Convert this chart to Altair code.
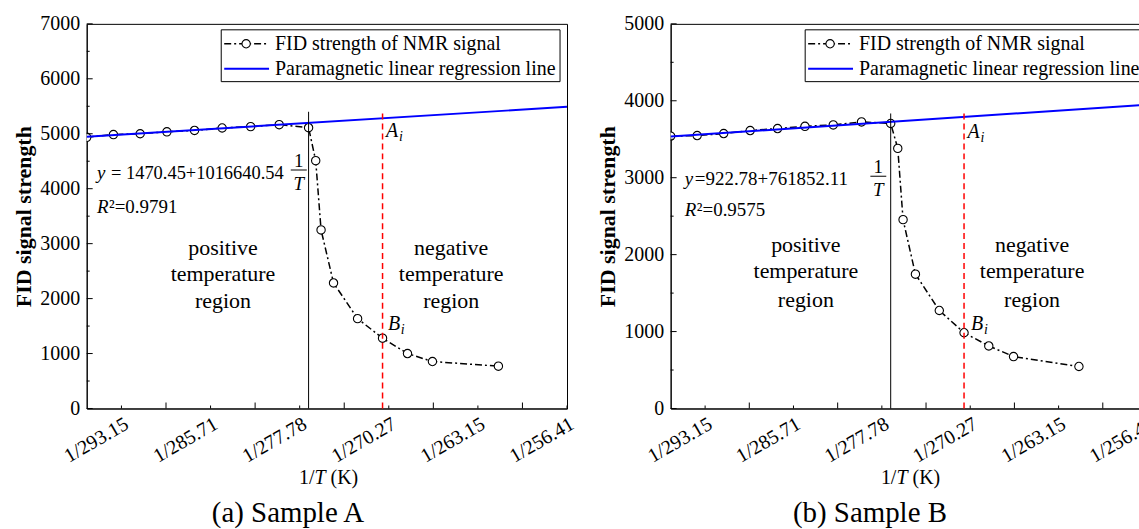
import altair as alt
import pandas as pd

# ---------------- data ----------------
inv_T = [3.361, 3.391, 3.421, 3.451, 3.482, 3.513, 3.545, 3.577, 3.610,
         3.618, 3.624, 3.638, 3.665, 3.693, 3.721, 3.749, 3.823]   # 1/T  (x 10^-3)
fid_a = [4935, 4985, 5000, 5035, 5060, 5105, 5130, 5165, 5110,
         4510, 3250, 2285, 1635, 1280, 1000, 855, 770]
fid_b = [3540, 3548, 3574, 3613, 3639, 3668, 3686, 3725, 3705,
         3381, 2455, 1746, 1274, 985, 813, 675, 546]
reg_x = [3.361, 3.9]
reg_a = [4945, 5490]
reg_b = [3535, 3950]
tick_values = [3.4, 3.5, 3.6, 3.7, 3.8, 3.9]
tick_labels = ["1/293.15", "1/285.71", "1/277.78", "1/270.27", "1/263.15", "1/256.41"]
minor_x = [3.45, 3.55, 3.65, 3.75, 3.85]
transition_x = 3.610
bi_x = 3.693
line_top_a = 5400
line_top_b = 3835
eq_a = "= 1470.45+1016640.54"
eq_b = "=922.78+761852.11"
r2_a = "²=0.9791"
r2_b = "²=0.9575"
legend_labels = ["FID strength of NMR signal", "Paramagnetic linear regression line"]
region_pos = ["positive", "temperature", "region"]
region_neg = ["negative", "temperature", "region"]

FONT = "Liberation Serif"
X_DOMAIN = [3.361, 3.9]
H = 386


def panel(fid, reg, ymax, width, caption, eq, eq_dx, eq_size, r2, line_top, ann):
    xs = alt.Scale(domain=X_DOMAIN, nice=False, zero=False)
    ys = alt.Scale(domain=[0, ymax], nice=False, zero=True)
    label_expr = ("[" + ",".join("'%s'" % s for s in tick_labels) +
                  "][round((datum.value - 3.4) * 10)]")
    xax = alt.Axis(values=tick_values, labelExpr=label_expr, labelAngle=330,
                   labelAlign="right", labelBaseline="top", ticks=False, tickSize=0,
                   labelPadding=5, title=None, grid=False, domainColor="black",
                   labelFontSize=20, labelFont=FONT, labelColor="black",
                   labelOverlap=False)
    yax = alt.Axis(values=list(range(0, ymax + 1, 1000)), format="d", ticks=False, tickSize=0,
                   labelPadding=7, title="FID signal strength", titleFont=FONT,
                   titleFontSize=22, titleFontWeight="bold", titlePadding=4,
                   titleColor="black", grid=False, domainColor="black",
                   labelFontSize=20, labelFont=FONT, labelColor="black")

    def X(f="x"):
        return alt.X(f, type="quantitative", scale=xs, axis=xax)

    def Y(f="y"):
        return alt.Y(f, type="quantitative", scale=ys, axis=yax)

    def txt(x, y, s, size=20, italic=False, align="left", dx=0, dy=0):
        return alt.Chart(pd.DataFrame({"x": [x], "y": [y], "t": [s]})).mark_text(
            font=FONT, fontSize=size, fontStyle="italic" if italic else "normal",
            align=align, baseline="middle", dx=dx, dy=dy, color="black"
        ).encode(x=X(), y=Y(), text="t:N")

    def ptxt(px, py, s, size=20, italic=False, align="left", dx=0):
        return alt.Chart(pd.DataFrame({"t": [s]})).mark_text(
            font=FONT, fontSize=size, fontStyle="italic" if italic else "normal",
            align=align, baseline="middle", dx=dx, color="black"
        ).encode(x=alt.value(px), y=alt.value(py), text="t:N")

    df = pd.DataFrame({"x": inv_T, "y": fid})
    fid_line = alt.Chart(df).mark_line(color="black", strokeWidth=1.5,
                                       strokeDash=[7, 3, 2, 3], clip=True).encode(x=X(), y=Y())
    fid_pts = alt.Chart(df).mark_point(shape="circle", size=70, filled=True, fill="white",
                                       stroke="black", strokeWidth=1.1, opacity=1,
                                       clip=True).encode(x=X(), y=Y())
    reg_line = alt.Chart(pd.DataFrame({"x": reg_x, "y": reg})).mark_line(
        color="#0000ff", strokeWidth=2, clip=True).encode(x=X(), y=Y())
    black_rule = alt.Chart(pd.DataFrame({"x": [transition_x], "y": [0], "y2": [line_top]})).mark_rule(
        color="black", strokeWidth=1).encode(x=X(), y=Y(), y2="y2")
    red_rule = alt.Chart(pd.DataFrame({"x": [bi_x], "y": [0], "y2": [line_top]})).mark_rule(
        color="#ff0000", strokeWidth=1.5, strokeDash=[6, 4]).encode(x=X(), y=Y(), y2="y2")

    # inward ticks
    xt_short = alt.Chart(pd.DataFrame({"x": tick_values})).mark_rule(color="black").encode(
        x=X(), y=alt.value(H), y2=alt.value(H - 3))
    xt_long = alt.Chart(pd.DataFrame({"x": minor_x})).mark_rule(color="black").encode(
        x=X(), y=alt.value(H), y2=alt.value(H - 6))
    yt_long = alt.Chart(pd.DataFrame({"y": list(range(0, ymax + 1, 1000))})).mark_rule(color="black").encode(
        y=Y(), x=alt.value(0), x2=alt.value(6))
    yt_short = alt.Chart(pd.DataFrame({"y": list(range(500, ymax, 1000))})).mark_rule(color="black").encode(
        y=Y(), x=alt.value(0), x2=alt.value(3))

    one = pd.DataFrame({"k": [0]})

    # annotations in data coordinates
    a = ann
    texts = [
        txt(a["eq_x"], a["eq_y"], "y", size=19, italic=True),
        txt(a["eq_x"], a["eq_y"], eq, size=eq_size, dx=eq_dx),
        txt(a["fr_x"], a["one_y"], "1", size=19, align="center"),
        txt(a["fr_x"], a["t_y"], "T", size=19, italic=True, align="center"),
        txt(a["eq_x"], a["r2_y"], "R", size=19, italic=True),
        txt(a["eq_x"], a["r2_y"], r2, size=19, dx=12),
        txt(a["ai_x"], a["ai_y"], "A", italic=True),
        txt(a["ai_x"], a["ai_y"], "i", size=14, italic=True, dx=13, dy=6),
        txt(a["bi_x"], a["bi_y"], "B", italic=True),
        txt(a["bi_x"], a["bi_y"], "i", size=14, italic=True, dx=13, dy=6),
    ]
    for s, yy in zip(region_pos, a["reg_y"]):
        texts.append(txt(3.514, yy, s, size=22, align="center"))
    for s, yy in zip(region_neg, a["reg_y"]):
        texts.append(txt(3.770, yy, s, size=22, align="center"))
    frac_bar = alt.Chart(pd.DataFrame({"x": [a["fr_x"] - 0.009], "x2": [a["fr_x"] + 0.009],
                                       "y": [a["bar_y"]]})).mark_rule(color="black", strokeWidth=1).encode(
        x=X(), x2="x2", y=Y())

    # legend (inside plot, top-right)
    box = alt.Chart(one).mark_rect(fill="white", stroke="black", strokeWidth=1).encode(
        x=alt.value(135), x2=alt.value(475), y=alt.value(6), y2=alt.value(58))
    leg_l1 = alt.Chart(one).mark_rule(color="black", strokeWidth=1.5, strokeDash=[7, 3, 2, 3]).encode(
        x=alt.value(138), x2=alt.value(183), y=alt.value(20))
    leg_pt = alt.Chart(one).mark_point(shape="circle", size=70, filled=True, fill="white",
                                       stroke="black", strokeWidth=1.1, opacity=1).encode(
        x=alt.value(160), y=alt.value(20))
    leg_l2 = alt.Chart(one).mark_rule(color="#0000ff", strokeWidth=2).encode(
        x=alt.value(138), x2=alt.value(183), y=alt.value(45))
    leg_t1 = ptxt(189, 20, legend_labels[0])
    leg_t2 = ptxt(189, 45, legend_labels[1])

    # x-axis title "1/T (K)"
    c = a["xt_c"]
    xt1 = ptxt(c, H + 70, "1/", dx=-30)
    xt2 = ptxt(c, H + 70, "T", italic=True, dx=-14.4)
    xt3 = ptxt(c, H + 70, "(K)", dx=1.7)

    layers = [fid_line, fid_pts, reg_line, black_rule, red_rule,
              xt_short, xt_long, yt_long, yt_short, frac_bar] + texts + [
              box, leg_l1, leg_pt, leg_l2, leg_t1, leg_t2, xt1, xt2, xt3]
    return alt.layer(*layers).properties(
        width=width, height=H,
        title=alt.TitleParams(caption, orient="bottom", anchor="middle", frame="bounds",
                              fontSize=29, font=FONT, fontWeight="normal", color="black",
                              offset=11, dx=-7))


ann_a = dict(eq_x=3.3726, eq_y=4285, fr_x=3.599, one_y=4503, t_y=4086, bar_y=4340,
             r2_y=3663, reg_y=[2920, 2448, 1959], ai_x=3.697, ai_y=5042,
             bi_x=3.699, bi_y=1536, xt_c=243)
ann_b = dict(eq_x=3.3771, eq_y=2981, fr_x=3.596, one_y=3135, t_y=2839, bar_y=3019,
             r2_y=2581, reg_y=[2125, 1781, 1415], ai_x=3.697, ai_y=3596,
             bi_x=3.701, bi_y=1101, xt_c=241)

pa = panel(fid_a, reg_a, 7000, 482, "(a) Sample A", eq_a, 14, 18.5, r2_a, line_top_a, ann_a)
pb = panel(fid_b, reg_b, 5000, 478, "(b) Sample B", eq_b, 10, 19, r2_b, line_top_b, ann_b)

# negative right padding crops panel B at the window edge, as in the reference image
chart = alt.hconcat(pa, pb, spacing=18).properties(
    padding={"left": 12, "top": 12, "right": -19, "bottom": 0},
    background="white",
).configure_view(stroke="black", strokeWidth=1)

chart.save("out.html", embed_options={"renderer": "svg", "actions": False})
